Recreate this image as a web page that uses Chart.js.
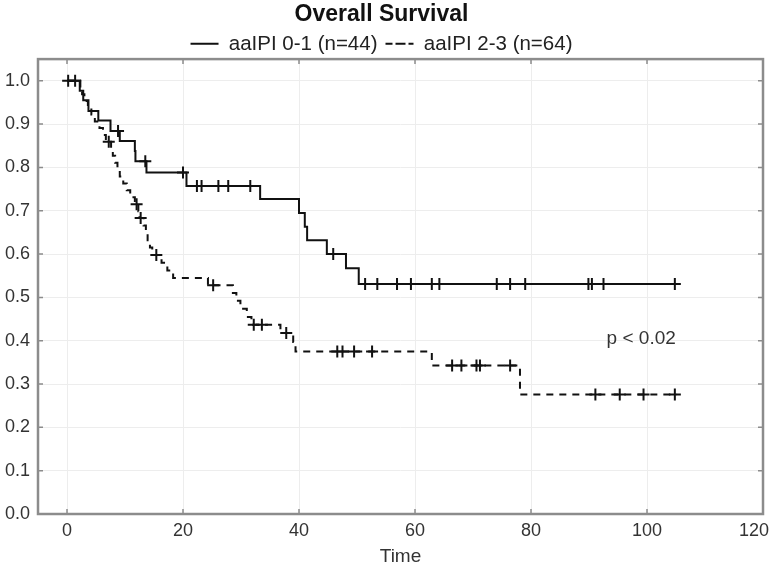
<!DOCTYPE html>
<html>
<head>
<meta charset="utf-8">
<script src="https://cdn.jsdelivr.net/npm/chart.js@4.4.1/dist/chart.umd.min.js"></script>
<style>
  html, body { margin: 0; padding: 0; background: #fff; }
  #wrap { width: 770px; height: 568px; }
</style>
</head>
<body>
<div id="wrap"><canvas id="myChart" width="770" height="568"></canvas></div>
<script>
// aaIPI 0-1 (n=44): step points (time, survival)
let lowTime = [0, 2.2, 2.8, 3.7, 5.4, 7.5, 9.1, 11.7, 11.8, 13.7, 20.6, 33.3, 40.0, 41.0, 41.4, 44.8, 48.1, 50.3, 105.1];
let lowSurv = [1.0, 0.977, 0.955, 0.930, 0.908, 0.884, 0.861, 0.838, 0.814, 0.788, 0.757, 0.727, 0.695, 0.663, 0.632, 0.600, 0.567, 0.531, 0.531];
// censored cases
let lowCensTime = [0.2, 1.4, 8.8, 13.5, 20.0, 22.4, 23.2, 26.1, 27.8, 31.6, 45.9, 51.4, 53.5, 56.9, 59.3, 62.9, 64.2, 74.1, 76.4, 79.0, 89.9, 90.5, 92.5, 104.8];
let lowCensSurv = [1.0, 1.0, 0.884, 0.814, 0.788, 0.757, 0.757, 0.757, 0.757, 0.757, 0.600, 0.531, 0.531, 0.531, 0.531, 0.531, 0.531, 0.531, 0.531, 0.531, 0.531, 0.531, 0.531, 0.531];

// aaIPI 2-3 (n=64)
let highTime = [0, 2.3, 2.6, 3.0, 3.6, 4.2, 4.8, 5.6, 6.2, 6.7, 7.6, 7.9, 8.3, 8.7, 9.1, 9.7, 10.3, 10.9, 11.7, 12.3, 12.5, 13.2, 13.6, 13.9, 14.3, 14.7, 16.3, 17.3, 18.3, 24.3, 28.6, 29.2, 29.9, 31.0, 31.8, 36.8, 39.0, 39.4, 62.9, 78.1, 105.1];
let highSurv = [1.0, 0.984, 0.969, 0.953, 0.938, 0.922, 0.906, 0.891, 0.875, 0.859, 0.843, 0.827, 0.811, 0.795, 0.779, 0.763, 0.747, 0.731, 0.715, 0.699, 0.683, 0.666, 0.649, 0.632, 0.615, 0.598, 0.580, 0.562, 0.545, 0.528, 0.510, 0.492, 0.474, 0.455, 0.437, 0.418, 0.397, 0.375, 0.343, 0.276, 0.276];
let highCensTime = [7.2, 12.0, 12.7, 15.4, 25.2, 32.2, 33.6, 37.8, 46.6, 47.5, 49.5, 52.6, 66.4, 68.0, 70.6, 71.2, 76.4, 91.1, 95.3, 99.4, 104.8];
let highCensSurv = [0.859, 0.715, 0.683, 0.598, 0.528, 0.437, 0.437, 0.418, 0.375, 0.375, 0.375, 0.375, 0.343, 0.343, 0.343, 0.343, 0.343, 0.276, 0.276, 0.276, 0.276];

let xTicks = [0, 20, 40, 60, 80, 100, 120];
let yTicks = [0, 0.1, 0.2, 0.3, 0.4, 0.5, 0.6, 0.7, 0.8, 0.9, 1.0];

let pText = 'p < 0.02';
let pPos = [99.0, 0.405];

function pts(xs, ys) {
    return xs.map((v, i) => ({ x: v, y: ys[i] }));
}

const framePlugin = {
    id: 'frame',
    afterInit(chart) {
        // pull the plot area up a little under the legend
        const lg = chart.legend;
        const fit = lg.fit;
        lg.fit = function () { fit.call(this); this.height -= 5; };
    },
    beforeDatasetsDraw(chart) {
        const { ctx, chartArea: a, scales } = chart;
        ctx.save();
        ctx.strokeStyle = '#8c8c8c';
        ctx.lineWidth = 1.5;
        scales.x.ticks.forEach(t => {
            const px = scales.x.getPixelForValue(t.value);
            ctx.beginPath();
            ctx.moveTo(px, a.bottom); ctx.lineTo(px, a.bottom - 5);
            ctx.moveTo(px, a.top); ctx.lineTo(px, a.top + 5);
            ctx.stroke();
        });
        scales.y.ticks.forEach(t => {
            const py = scales.y.getPixelForValue(t.value);
            ctx.beginPath();
            ctx.moveTo(a.left, py); ctx.lineTo(a.left + 5, py);
            ctx.moveTo(a.right, py); ctx.lineTo(a.right - 5, py);
            ctx.stroke();
        });
        ctx.lineWidth = 2.5;
        ctx.strokeRect(a.left, a.top, a.right - a.left, a.bottom - a.top);
        ctx.restore();
    },
    afterDatasetsDraw(chart) {
        const { ctx, scales } = chart;
        ctx.save();
        ctx.fillStyle = '#333';
        ctx.font = '19px "Liberation Sans", Arial, sans-serif';
        ctx.textAlign = 'center';
        ctx.textBaseline = 'middle';
        ctx.fillText(pText, scales.x.getPixelForValue(pPos[0]), scales.y.getPixelForValue(pPos[1]));
        ctx.restore();
    }
};

let ctx = document.getElementById('myChart').getContext('2d');
let chart = new Chart(ctx, {
    type: 'line',
    data: {
        datasets: [
            {
                label: 'aaIPI 0-1 (n=44)',
                data: pts(lowTime, lowSurv),
                borderColor: '#111',
                backgroundColor: 'rgba(0,0,0,0)',
                borderWidth: 2,
                stepped: 'before',
                pointRadius: 0
            },
            {
                label: 'aaIPI 2-3 (n=64)',
                data: pts(highTime, highSurv),
                borderColor: '#111',
                backgroundColor: 'rgba(0,0,0,0)',
                borderWidth: 2,
                borderDash: [7, 6],
                stepped: 'before',
                pointRadius: 0
            },
            {
                label: 'cens1',
                data: pts(lowCensTime, lowCensSurv),
                showLine: false,
                pointStyle: 'cross',
                pointRadius: 6,
                pointBorderWidth: 2,
                borderColor: '#111'
            },
            {
                label: 'cens2',
                data: pts(highCensTime, highCensSurv),
                showLine: false,
                pointStyle: 'cross',
                pointRadius: 6,
                pointBorderWidth: 2,
                borderColor: '#111'
            }
        ]
    },
    options: {
        responsive: false,
        animation: false,
        events: [],
        layout: { autoPadding: false, padding: { left: 0, right: 7, top: 0, bottom: 0 } },
        plugins: {
            title: {
                display: true,
                text: 'Overall Survival',
                color: '#111',
                font: { family: '"Liberation Sans", Arial, sans-serif', size: 23, weight: 'bold' },
                padding: { top: 1, bottom: -3 }
            },
            legend: {
                display: true,
                labels: {
                    filter: item => item.datasetIndex < 2,
                    boxWidth: 28,
                    boxHeight: 0,
                    color: '#222',
                    padding: 8,
                    font: { family: '"Liberation Sans", Arial, sans-serif', size: 20.5 }
                }
            },
            tooltip: { enabled: false }
        },
        scales: {
            x: {
                type: 'linear',
                min: -5,
                max: 120,
                afterBuildTicks: s => { s.ticks = xTicks.map(v => ({ value: v })); },
                afterFit: s => { s.height = 54; s.paddingLeft = 0; s.paddingRight = 0; },
                ticks: {
                    color: '#333',
                    padding: 6,
                    // last label sits against the canvas edge, nudge it left
                    callback: v => (v === 120 ? '120\u2002\u2002' : String(v)),
                    font: { family: '"Liberation Sans", Arial, sans-serif', size: 18 }
                },
                grid: { color: '#ededed', lineWidth: 1, drawTicks: false },
                border: { display: false },
                title: {
                    display: true,
                    text: 'Time',
                    color: '#333',
                    padding: { top: 2, bottom: 0 },
                    font: { family: '"Liberation Sans", Arial, sans-serif', size: 19 }
                }
            },
            y: {
                min: 0,
                max: 1.05,
                afterBuildTicks: s => { s.ticks = yTicks.map(v => ({ value: v })); },
                afterFit: s => { s.width = 38; },
                ticks: {
                    color: '#333',
                    padding: 8,
                    callback: v => v.toFixed(1),
                    font: { family: '"Liberation Sans", Arial, sans-serif', size: 18 }
                },
                grid: { color: '#ededed', lineWidth: 1, drawTicks: false },
                border: { display: false }
            }
        }
    },
    plugins: [framePlugin]
});
</script>
</body>
</html>
